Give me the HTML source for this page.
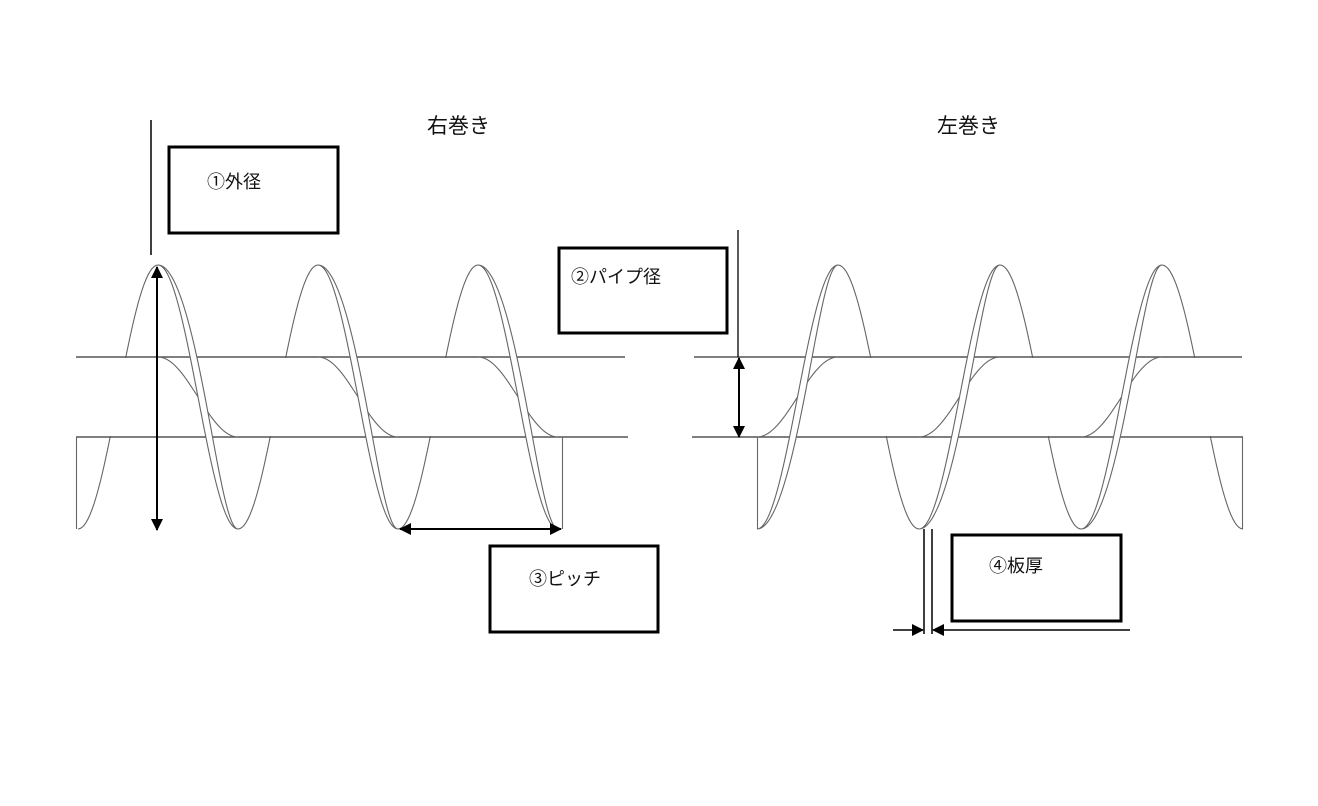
<!DOCTYPE html>
<html><head><meta charset="utf-8"><style>
html,body{margin:0;padding:0;background:#fff;}
svg{display:block;}
text{font-family:"Liberation Sans","Noto Sans CJK JP",sans-serif;fill:#111;}
</style></head><body>
<svg id="s" width="1318" height="806" viewBox="0 0 1318 806" xmlns="http://www.w3.org/2000/svg">
<defs>
<marker id="ah" markerWidth="12" markerHeight="12" refX="11" refY="6" orient="auto" markerUnits="userSpaceOnUse">
<path d="M0,0 L12,6 L0,12 z" fill="#000"/></marker>
<marker id="ahs" markerWidth="12" markerHeight="12" refX="1" refY="6" orient="auto" markerUnits="userSpaceOnUse">
<path d="M12,0 L0,6 L12,12 z" fill="#000"/></marker>
</defs>
<g id="back" fill="none" stroke="#666" stroke-width="1.1"></g>
<rect x="76" y="358" width="552" height="78" fill="#fff"/>
<rect x="692" y="358" width="551" height="78" fill="#fff"/>
<g stroke="#555" stroke-width="1.5">
<line x1="76" y1="357" x2="625" y2="357"/>
<line x1="76" y1="437" x2="628" y2="437"/>
<line x1="694" y1="357" x2="1242" y2="357"/>
<line x1="692" y1="437" x2="1243" y2="437"/>
</g>
<g stroke="#666" stroke-width="1.1">
<line x1="76.5" y1="437" x2="76.5" y2="529"/>
<line x1="562.5" y1="437" x2="562.5" y2="529"/>
<line x1="757.5" y1="437" x2="757.5" y2="529"/>
<line x1="1242.5" y1="437" x2="1242.5" y2="529"/>
</g>
<g id="helix" fill="none" stroke="#666" stroke-width="1.1"></g>
<g id="band" fill="#fff" stroke="#666" stroke-width="1.1"></g>

<g stroke="#000">
<line x1="151" y1="120" x2="151" y2="255" stroke-width="1.5"/>
<line x1="157" y1="267" x2="157" y2="530" stroke-width="2" marker-start="url(#ahs)" marker-end="url(#ah)"/>
<line x1="738" y1="230" x2="738" y2="357" stroke-width="1.3"/>
<line x1="739" y1="358" x2="739" y2="437" stroke-width="2" marker-start="url(#ahs)" marker-end="url(#ah)"/>
<line x1="400" y1="529" x2="561" y2="529" stroke-width="2" marker-start="url(#ahs)" marker-end="url(#ah)"/>
<line x1="924" y1="529" x2="924" y2="634" stroke-width="1.5"/>
<line x1="932" y1="529" x2="932" y2="634" stroke-width="1.5"/>
<line x1="893" y1="630" x2="923" y2="630" stroke-width="1.5" marker-end="url(#ah)"/>
<line x1="1130" y1="630" x2="933" y2="630" stroke-width="1.5" marker-end="url(#ah)"/>
</g>
<g fill="#fff" stroke="#000" stroke-width="3">
<rect x="169" y="147" width="169" height="86"/>
<rect x="559" y="248" width="168" height="85"/>
<rect x="490" y="546" width="168" height="86"/>
<rect x="952" y="535" width="169" height="86"/>
</g>
<text x="427" y="133" font-size="21">右巻き</text>
<text x="937" y="133" font-size="21">左巻き</text>
<text x="207" y="188" font-size="18">①外径</text>
<text x="571" y="283" font-size="18">②パイプ径</text>
<text x="529" y="585" font-size="18">③ピッチ</text>
<text x="989" y="572" font-size="18">④板厚</text>
</svg>
<script>
(function(){
var NS="http://www.w3.org/2000/svg";
function add(g,d){var p=document.createElementNS(NS,"path");p.setAttribute("d",d);document.getElementById(g).appendChild(p);}
function sinPath(x0,x1,pk,P,amp){var d="";var n=40;for(var i=0;i<=n;i++){var x=x0+(x1-x0)*i/n;var y=397-amp*Math.cos(2*Math.PI*(x-pk)/P);d+=(i?"L":"M")+x.toFixed(2)+","+y.toFixed(2);}return d;}
function bandPath(x0,x1,pk,P){var a=[],b=[];var n=50;for(var i=0;i<=n;i++){var x=x0+(x1-x0)*i/n;var y=397-132*Math.cos(2*Math.PI*(x-pk)/P);var t=i/n;a.push([x,y]);b.push([x+7*Math.sin(Math.PI*t),y]);}
var d="";a.forEach(function(p,i){d+=(i?"L":"M")+p[0].toFixed(2)+","+p[1].toFixed(2);});for(var i=b.length-1;i>=0;i--){d+="L"+b[i][0].toFixed(2)+","+b[i][1].toFixed(2);}return d+"Z";}
var P=160,peaks=[158,318,478];
add("back",sinPath(78,158,158,P,132));
peaks.forEach(function(p,i){
 if(i>0) add("back",sinPath(p-80,p,p,P,132));
 add("helix",sinPath(p,p+80,p,P,40));
 add("band",bandPath(p,p+80,p,P));
});
var P2=162,pk2=[838,1000,1162];
pk2.forEach(function(p){
 add("back",sinPath(p,p+81,p,P2,132));
 add("helix",sinPath(p-81,p,p,P2,40));
 add("band",bandPath(p-81,p,p,P2));
});
})();
</script>
</body></html>
